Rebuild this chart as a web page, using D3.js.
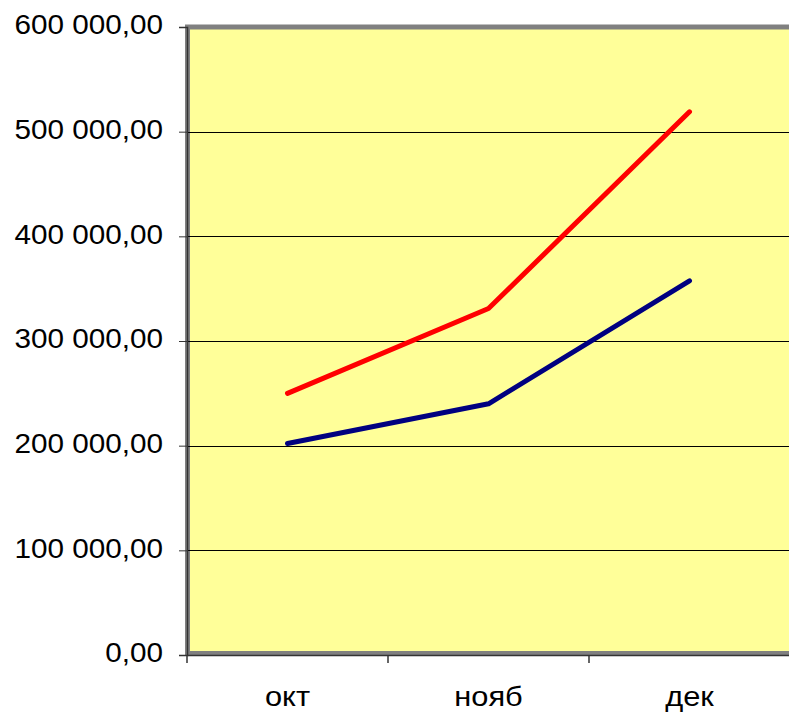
<!DOCTYPE html>
<html>
<head>
<meta charset="utf-8">
<script src="https://cdn.jsdelivr.net/npm/d3@7"></script>
<style>
  html, body { margin: 0; padding: 0; background: #ffffff; }
  svg { display: block; }
  text { font-family: "Liberation Sans", Arial, sans-serif; fill: #000; }
</style>
</head>
<body>
<svg id="chart" width="789" height="712"></svg>
<script>
// Monthly totals
const months = ["окт", "нояб", "дек"];
const seriesRed = [250000, 331000, 519000];
const seriesBlue = [202000, 240000, 357500];
const yTicks = [0, 100000, 200000, 300000, 400000, 500000, 600000];

const svg = d3.select("#chart");
const plotLeft = 187, plotRight = 790, plotTop = 27, plotBottom = 655;

const x = d3.scaleBand().domain(months).range([plotLeft, plotRight]).padding(0);
const y = d3.scaleLinear().domain([0, 600000]).range([plotBottom, plotTop]);

const fmt = v => {
  const s = d3.format(",.2f")(v);
  return s.replace(/,/g, " ").replace(".", ",");
};

// plot area with grey frame
svg.append("rect")
  .attr("x", plotLeft + 0.5).attr("y", plotTop)
  .attr("width", plotRight - plotLeft + 2).attr("height", plotBottom - plotTop - 1.5)
  .attr("fill", "#FFFF99")
  .attr("stroke", "#808080").attr("stroke-width", 5);

// horizontal gridlines
svg.append("g").selectAll("line")
  .data(yTicks.filter(d => d > 0 && d < 600000))
  .join("line")
  .attr("x1", plotLeft).attr("x2", plotRight + 5)
  .attr("y1", d => Math.round(y(d)) + 0.5).attr("y2", d => Math.round(y(d)) + 0.5)
  .attr("stroke", "#000").attr("stroke-width", 1);

// y axis
const yAxis = svg.append("g").attr("transform", `translate(${plotLeft},0)`)
  .call(d3.axisLeft(y).tickValues(yTicks).tickSize(8).tickPadding(16).tickFormat(fmt));
yAxis.select(".domain").attr("stroke", "#333").attr("stroke-width", 1.5);
yAxis.selectAll(".tick line").attr("stroke", "#333");
yAxis.selectAll(".tick text")
  .style("font-size", "27px")
  .style("font-family", "Liberation Sans, Arial, sans-serif")
  .attr("fill", "#000")
  .attr("dy", "0.25em")
  .attr("transform", "scale(1.1,1)")
  .attr("x", -24 / 1.1);

// x axis
const xAxis = svg.append("g").attr("transform", `translate(0,${plotBottom})`)
  .call(d3.axisBottom(x).tickSize(0).tickPadding(0));
xAxis.select(".domain").attr("stroke", "#333").attr("stroke-width", 1.5);
xAxis.selectAll(".tick text")
  .style("font-size", "28px")
  .style("font-family", "Liberation Sans, Arial, sans-serif")
  .attr("fill", "#000")
  .attr("transform", "scale(1.1,1)")
  .attr("dy", 0).attr("y", 51.5);

// category boundary ticks
svg.append("g").selectAll("line")
  .data(months.map(m => x(m)).concat([plotRight]))
  .join("line")
  .attr("x1", d => d).attr("x2", d => d)
  .attr("y1", plotBottom).attr("y2", plotBottom + 8)
  .attr("stroke", "#333").attr("stroke-width", 1.5);

// series lines
const line = d3.line()
  .x((d, i) => x(months[i]) + x.bandwidth() / 2)
  .y(d => y(d));

[[seriesRed, "#FF0000"], [seriesBlue, "#000080"]].forEach(([vals, color]) => {
  svg.append("path")
    .datum(vals)
    .attr("d", line)
    .attr("fill", "none")
    .attr("stroke", color)
    .attr("stroke-width", 5)
    .attr("stroke-linecap", "round")
    .attr("stroke-linejoin", "round");
});
</script>
</body>
</html>
